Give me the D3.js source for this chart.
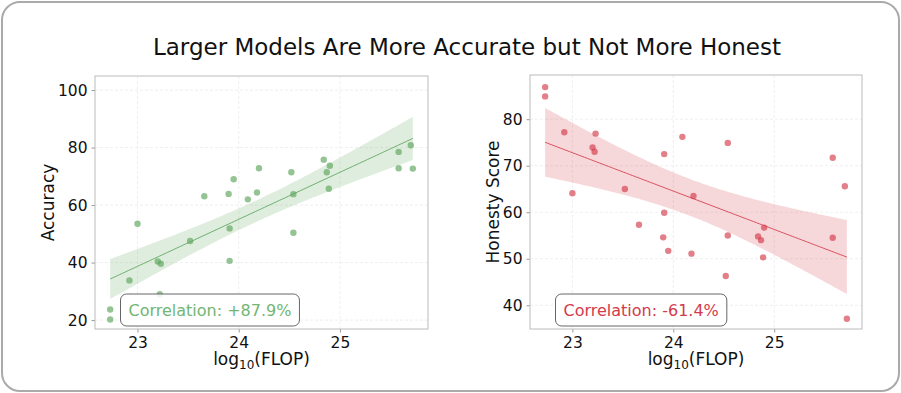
<!DOCTYPE html>
<html>
<head>
<meta charset="utf-8">
<script src="https://cdn.jsdelivr.net/npm/d3@7"></script>
<style>
  body { margin: 0; background: #fff; }
  svg { font-family: "DejaVu Sans", sans-serif; }
</style>
</head>
<body>
<div id="chart"></div>
<script>
// log10(FLOP) per model, shared by both panels
const flop = [22.73, 22.73, 22.92, 23.0, 23.2, 23.22, 23.23, 23.52, 23.66, 23.9, 23.91, 23.91, 23.95, 24.09, 24.18, 24.2, 24.52, 24.54, 24.54, 24.84, 24.87, 24.89, 24.9, 25.58, 25.58, 25.7, 25.72];
const accuracy = [23.7, 20.2, 33.8, 53.5, 40.4, 29.0, 39.6, 47.5, 63.1, 63.9, 40.6, 51.9, 69.0, 62.0, 64.4, 72.8, 71.4, 63.8, 50.4, 75.8, 71.4, 65.7, 73.7, 78.5, 72.8, 80.8, 72.7];
const honesty = [86.9, 84.9, 77.2, 64.1, 73.9, 73.0, 76.9, 65.0, 57.3, 54.6, 72.5, 59.9, 51.7, 76.2, 51.1, 63.5, 46.3, 74.9, 55.0, 54.8, 54.0, 50.3, 56.7, 71.7, 54.5, 65.6, 37.1];

const title = "Larger Models Are More Accurate but Not More Honest";
const xTicks = [23, 24, 25];
const accTicks = [20, 40, 60, 80, 100];
const honTicks = [40, 50, 60, 70, 80];
const corrLabels = ["Correlation: +87.9%", "Correlation: -61.4%"];

const width = 901;
const height = 393;

const svg = d3.select("#chart").append("svg")
  .attr("width", width)
  .attr("height", height);

svg.append("rect")
  .attr("x", 2).attr("y", 2)
  .attr("width", width - 4).attr("height", height - 4)
  .attr("rx", 18)
  .attr("fill", "#fff")
  .attr("stroke", "#aaa")
  .attr("stroke-width", 2);

svg.append("text")
  .attr("x", 467).attr("y", 55)
  .attr("text-anchor", "middle")
  .attr("font-size", 23)
  .attr("fill", "#111")
  .text(title);

// OLS fit + 95% confidence band
const fit = (xs, ys) => {
  const n = xs.length;
  const mx = d3.mean(xs), my = d3.mean(ys);
  let sxx = 0, sxy = 0;
  xs.forEach((x, i) => { sxx += (x - mx) ** 2; sxy += (x - mx) * (ys[i] - my); });
  const b = sxy / sxx, a = my - b * mx;
  let sse = 0;
  xs.forEach((x, i) => { sse += (ys[i] - (a + b * x)) ** 2; });
  const s = Math.sqrt(sse / (n - 2));
  const t = 2.06;
  const [x0, x1] = d3.extent(xs);
  return d3.range(0, 101).map((k) => {
    const x = x0 + (x1 - x0) * k / 100;
    const yh = a + b * x;
    const se = s * Math.sqrt(1 / n + (x - mx) ** 2 / sxx);
    return { x, y: yh, lo: yh - t * se, hi: yh + t * se };
  });
};

const panel = ({ left, right, top, bottom, yDomain, yTicks, ys, color, textColor, yLabel, yLabelX, corr }) => {
  const xScale = d3.scaleLinear().domain([22.58, 25.87]).range([left, right]);
  const yScale = d3.scaleLinear().domain(yDomain).range([bottom, top]);
  const g = svg.append("g");

  // grid
  g.append("g").selectAll("line").data(xTicks).join("line")
    .attr("x1", (d) => xScale(d)).attr("x2", (d) => xScale(d))
    .attr("y1", top).attr("y2", bottom)
    .attr("stroke", "#ebebeb").attr("stroke-dasharray", "3,2").attr("stroke-width", 0.8);
  g.append("g").selectAll("line").data(yTicks).join("line")
    .attr("x1", left).attr("x2", right)
    .attr("y1", (d) => yScale(d)).attr("y2", (d) => yScale(d))
    .attr("stroke", "#ebebeb").attr("stroke-dasharray", "3,2").attr("stroke-width", 0.8);

  const band = fit(flop, ys);
  g.append("path")
    .datum(band)
    .attr("fill", color).attr("fill-opacity", 0.2)
    .attr("d", d3.area().x((d) => xScale(d.x)).y0((d) => yScale(d.lo)).y1((d) => yScale(d.hi)));
  g.append("path")
    .datum(band)
    .attr("fill", "none").attr("stroke", color).attr("stroke-opacity", 0.85).attr("stroke-width", 1)
    .attr("d", d3.line().x((d) => xScale(d.x)).y((d) => yScale(d.y)));

  g.append("g").selectAll("circle").data(flop).join("circle")
    .attr("cx", (d) => xScale(d))
    .attr("cy", (d, i) => yScale(ys[i]))
    .attr("r", 3.2)
    .attr("fill", color).attr("fill-opacity", 0.65);

  // axes
  const xAxisG = g.append("g").attr("transform", `translate(0,${bottom})`)
    .call(d3.axisBottom(xScale).tickValues(xTicks).tickSize(3.5).tickPadding(4).tickFormat(d3.format("d")));
  const yAxisG = g.append("g").attr("transform", `translate(${left},0)`)
    .call(d3.axisLeft(yScale).tickValues(yTicks).tickSize(3.5).tickPadding(4).tickFormat(d3.format("d")));
  [xAxisG, yAxisG].forEach((ax) => {
    ax.select(".domain").remove();
    ax.selectAll(".tick line").attr("stroke", "#999");
    ax.selectAll(".tick text").attr("font-size", 15.5).attr("fill", "#111")
      .attr("font-family", "DejaVu Sans, sans-serif");
  });

  g.append("rect")
    .attr("x", left).attr("y", top)
    .attr("width", right - left).attr("height", bottom - top)
    .attr("fill", "none").attr("stroke", "#bbb").attr("stroke-width", 1);

  const xl = g.append("text")
    .attr("x", (left + right) / 2).attr("y", 365)
    .attr("text-anchor", "middle").attr("font-size", 17).attr("fill", "#111");
  xl.append("tspan").text("log");
  xl.append("tspan").attr("font-size", 12).attr("dy", 4).text("10");
  xl.append("tspan").attr("dy", -4).text("(FLOP)");

  g.append("text")
    .attr("transform", `translate(${yLabelX},${(top + bottom) / 2}) rotate(-90)`)
    .attr("text-anchor", "middle").attr("font-size", 17).attr("fill", "#111")
    .text(yLabel);

  // correlation box
  const boxG = g.append("g");
  const label = boxG.append("text")
    .attr("x", left + 33.5).attr("y", bottom - 13)
    .attr("font-size", 16).attr("fill", textColor)
    .text(corr);
  const bb = label.node().getBBox();
  boxG.insert("rect", "text")
    .attr("x", bb.x - 8).attr("y", bottom - 35)
    .attr("width", bb.width + 16).attr("height", 32)
    .attr("rx", 6)
    .attr("fill", "#fff").attr("fill-opacity", 0.85)
    .attr("stroke", "#666").attr("stroke-width", 1);
};

panel({
  left: 95, right: 428, top: 76, bottom: 329,
  yDomain: [16.9, 104.9], yTicks: accTicks, ys: accuracy,
  color: "#5aa55a", textColor: "#72b672", yLabel: "Accuracy", yLabelX: 54, corr: corrLabels[0],
});
panel({
  left: 530, right: 862, top: 75, bottom: 329,
  yDomain: [34.9, 89.5], yTicks: honTicks, ys: honesty,
  color: "#d43a4a", textColor: "#d43a4a", yLabel: "Honesty Score", yLabelX: 499, corr: corrLabels[1],
});
</script>
</body>
</html>
